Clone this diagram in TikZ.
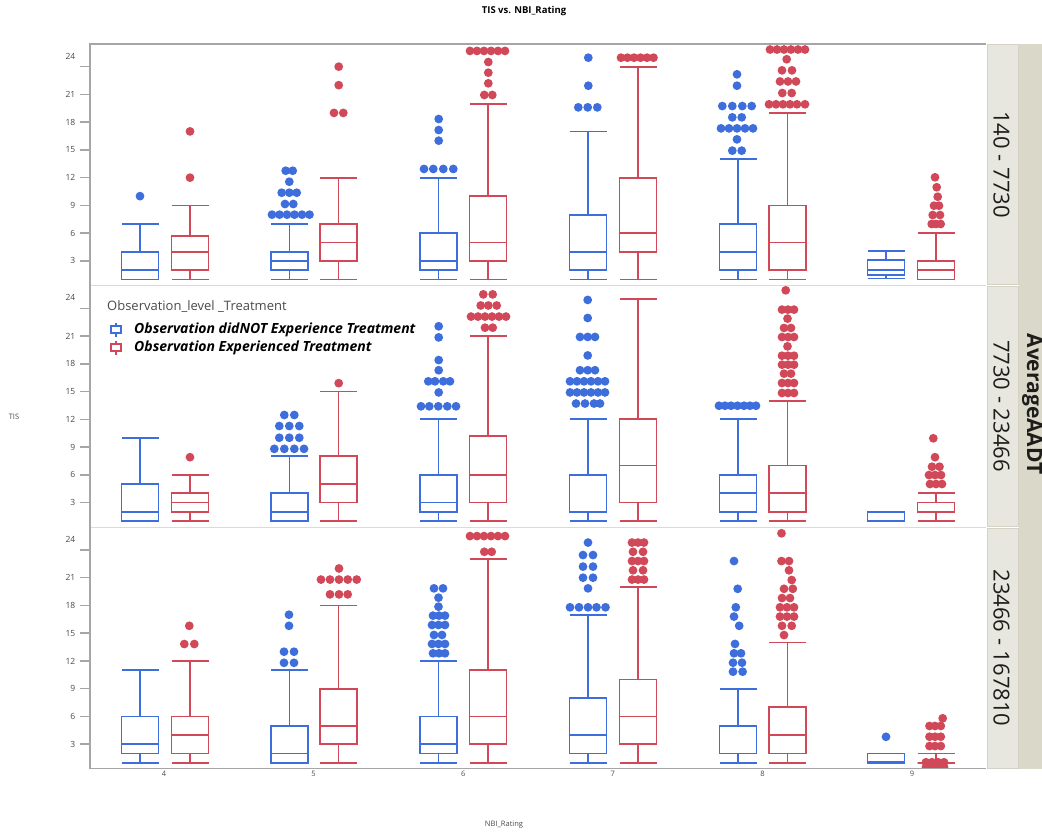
\documentclass[tikz,border=0pt]{standalone}
\usepackage{fontspec}
\setmainfont{Open Sans}
\usepackage{tikz}
\usetikzlibrary{calc}
\definecolor{cblue}{HTML}{3E6EDC}
\definecolor{cred}{HTML}{D14858}
\definecolor{axisg}{HTML}{A6A6A6}
\definecolor{divg}{HTML}{DADADA}
\definecolor{ink}{HTML}{1D1D1B}
\definecolor{ink2}{HTML}{4A4A4A}
\definecolor{stripl}{HTML}{E7E6DF}
\definecolor{stripe}{HTML}{D3D2C4}
\definecolor{stripd}{HTML}{DAD8C9}
\tikzset{
  whisk/.style={draw=#1, line width=1.8pt},
  ticklab/.style={font=\fontsize{8.5}{9}\selectfont, text=ink2, anchor=east, inner sep=0pt},
  xlab/.style={font=\fontsize{7.5}{8}\selectfont, text=ink2, inner sep=0pt},
  striplab/.style={font=\fontsize{22}{24}\selectfont, text=ink, rotate=-90, anchor=base, inner sep=0pt},
  legtxt/.style={font=\fontsize{14}{16}\selectfont\bfseries\itshape, text=black, anchor=west, inner sep=0pt},
}
% color, x, low, q1, median, q3, high
\newcommand{\tisbox}[7]{%
  \draw[whisk=#1] (#2-18.5,#3) -- (#2+18.5,#3) (#2,#3) -- (#2,#4) (#2,#6) -- (#2,#7) (#2-18.5,#7) -- (#2+18.5,#7);
  \draw[whisk=#1, fill=white] (#2-18.5,#4) rectangle (#2+18.5,#6);
  \draw[whisk=#1] (#2-18.5,#5) -- (#2+18.5,#5);
}
% color, value, x list
\newcommand{\tisdots}[3]{\foreach \px in {#3} \fill[#1] (\px,#2) circle (4.4pt);}

\begin{document}
\begin{tikzpicture}[x=1pt, y=-1pt]
    \useasboundingbox (0,0) rectangle (1042,831);
    \node[font=\fontsize{9.5}{11}\selectfont\bfseries, text=black] (ttl) at (524,11) {TIS vs. NBI\_Rating};

    \foreach \base/\nm in {288.65/a, 530.25/b, 771.95/c} {
      \begin{scope}[shift={(0,\base)}, y=9.25pt]
        \foreach \v in {3,6,...,24} \draw[axisg, line width=1.5pt] (80,\v) -- (90,\v);
        \foreach \v in {3,6,...,21} \node[ticklab] (t\nm\v) at (75.5,\v) {\v};
        \node[ticklab] (t\nm24) at (75.5,25.15) {24};
      \end{scope}
    }

    % 140 - 7730
    \begin{scope}[shift={(0,288.65)}, y=9.25pt]
      \clip (90,0.36) rectangle (986,26.48);
      \tisbox{cblue}{140}{1}{1}{2}{4}{7}
      \tisbox{cred}{190}{1}{2}{4}{5.7}{9}
      \tisbox{cblue}{289.5}{1}{2}{3}{4}{7}
      \tisbox{cred}{338.5}{1}{3}{5}{7}{12}
      \tisbox{cblue}{438.5}{1}{2}{3}{6}{12}
      \tisbox{cred}{488}{1}{3}{5}{10}{20}
      \tisbox{cblue}{588}{1}{2}{4}{8}{17}
      \tisbox{cred}{638}{1}{4}{6}{12}{24}
      \tisbox{cblue}{738}{1}{2}{4}{7}{14}
      \tisbox{cred}{787.5}{1}{2}{5}{9}{19}
      \tisbox{cblue}{886}{1.1}{1.5}{2}{3.1}{4.1}
      \tisbox{cred}{936}{1}{1}{2}{3}{6}
      \tisdots{cblue}{10}{140}
      \tisdots{cred}{12}{190} \tisdots{cred}{17}{190}
      \tisdots{cblue}{8}{272,279.5,287,294.5,302,309.5}
      \tisdots{cblue}{9.15}{285,293.3}
      \tisdots{cblue}{10.37}{281.7,289.3,296.7}
      \tisdots{cblue}{11.56}{289.3}
      \tisdots{cblue}{12.75}{285.7,292.7}
      \tisdots{cred}{19}{334,343.3}
      \tisdots{cred}{22}{338.7} \tisdots{cred}{24}{338.7}
      \tisdots{cblue}{12.94}{424,433.3,443.3,453.3}
      \tisdots{cblue}{16}{438.7} \tisdots{cblue}{17.15}{438.7} \tisdots{cblue}{18.34}{438.7}
      \tisdots{cred}{20.94}{484.3,492.3}
      \tisdots{cred}{22.2}{488.3} \tisdots{cred}{23.35}{488.3} \tisdots{cred}{24.5}{488.3}
      \tisdots{cred}{25.7}{470,477,484,491,498,505}
      \tisdots{cblue}{19.6}{578.3,587.7,597.3}
      \tisdots{cblue}{21.94}{588.3} \tisdots{cblue}{24.97}{588.3}
      \tisdots{cred}{24.97}{621,627.5,634,640.5,647,653.5}
      \tisdots{cblue}{14.92}{732.3,741.7}
      \tisdots{cblue}{16.14}{737}
      \tisdots{cblue}{17.33}{721,729,737,745,753}
      \tisdots{cblue}{18.52}{732.3,741.7}
      \tisdots{cblue}{19.74}{722.3,732.3,742.3,751.7}
      \tisdots{cblue}{21.94}{737} \tisdots{cblue}{23.17}{737}
      \tisdots{cred}{19.93}{769,776,783,790,797,805}
      \tisdots{cred}{21.15}{782.3,791.7}
      \tisdots{cred}{22.4}{780,788,796}
      \tisdots{cred}{23.6}{782,792}
      \tisdots{cred}{24.8}{786.7}
      \tisdots{cred}{25.85}{770,777,784,791,798,805}
      \tisdots{cred}{12.04}{935} \tisdots{cred}{10.96}{936.7} \tisdots{cred}{9.94}{937.7}
      \tisdots{cred}{8.97}{934,939} \tisdots{cred}{7.96}{932.7,940}
      \tisdots{cred}{6.99}{931.7,936,940.7}
    \end{scope}

    % 7730 - 23466
    \begin{scope}[shift={(0,530.25)}, y=9.25pt]
      \clip (90,0.36) rectangle (986,26.48);
      \tisbox{cblue}{140}{1}{1}{2}{5}{10}
      \tisbox{cred}{190}{1}{2}{3}{4}{6}
      \tisbox{cblue}{289.5}{1}{1}{2}{4}{8}
      \tisbox{cred}{338.5}{1}{3}{5}{8}{15}
      \tisbox{cblue}{438.5}{1}{2}{3}{6}{12}
      \tisbox{cred}{488}{1}{3}{6}{10.2}{21}
      \tisbox{cblue}{588}{1}{2}{2}{6}{12}
      \tisbox{cred}{638}{1}{3}{7}{12}{25}
      \tisbox{cblue}{738}{1}{2}{4}{6}{12}
      \tisbox{cred}{787.5}{1}{2}{4}{7}{14}
      \tisbox{cblue}{886}{1}{1}{1}{2}{2}
      \tisbox{cred}{936}{1}{2}{2}{3}{4}
      \tisdots{cred}{7.9}{190}
      \tisdots{cblue}{8.8}{274.3,284.3,294.3,304}
      \tisdots{cblue}{10}{279.3,289.3,299.3}
      \tisdots{cblue}{11.27}{279.3,289.3,299.3}
      \tisdots{cblue}{12.46}{284.3,294.3}
      \tisdots{cred}{15.9}{338.7}
      \tisdots{cblue}{13.4}{421,429.3,438.3,447.3,456}
      \tisdots{cblue}{14.9}{438.7}
      \tisdots{cblue}{16.1}{428.3,435,443.3,450}
      \tisdots{cblue}{17.3}{438.7} \tisdots{cblue}{18.4}{438.7}
      \tisdots{cblue}{20.85}{438.7} \tisdots{cblue}{22.05}{438.7}
      \tisdots{cred}{21.9}{485,492.7}
      \tisdots{cred}{23.1}{471,478,485,492,499,506}
      \tisdots{cred}{24.3}{480.7,488.3,496.7}
      \tisdots{cred}{25.5}{483.3,492.7}
      \tisdots{cblue}{13.7}{576,585,594,600}
      \tisdots{cblue}{14.9}{570,577,584,591,598,605}
      \tisdots{cblue}{16.1}{570,577,584,591,598,605}
      \tisdots{cblue}{17.3}{580,587.7,595}
      \tisdots{cblue}{18.9}{587.7}
      \tisdots{cblue}{20.9}{580,587.7,595}
      \tisdots{cblue}{22.95}{587.7} \tisdots{cblue}{24.9}{587.7}
      \tisdots{cblue}{13.46}{719,725,731,737.5,744,750,756}
      \tisdots{cred}{14.84}{782,788,794} \tisdots{cred}{15.92}{782,788,794}
      \tisdots{cred}{16.93}{784,791} \tisdots{cred}{17.9}{782,788,794}
      \tisdots{cred}{18.87}{782,788,794} \tisdots{cred}{19.88}{787.5}
      \tisdots{cred}{20.89}{782,788,794} \tisdots{cred}{21.87}{784,791}
      \tisdots{cred}{22.88}{787.5} \tisdots{cred}{23.85}{782,788,794}
      \tisdots{cred}{25.94}{785.7}
      \tisdots{cred}{9.94}{933.3} \tisdots{cred}{7.9}{935}
      \tisdots{cred}{6.87}{932,939.5}
      \tisdots{cred}{5.97}{929,935,941}
      \tisdots{cred}{5}{930,936,942}
    \end{scope}

    % 23466 - 167810
    \begin{scope}[shift={(0,771.95)}, y=9.25pt]
      \clip (90,0.37) rectangle (986,26.48);
      \tisbox{cblue}{140}{1}{2}{3}{6}{11}
      \tisbox{cred}{190}{1}{2}{4}{6}{12}
      \tisbox{cblue}{289.5}{1}{1}{2}{5}{11}
      \tisbox{cred}{338.5}{1}{3}{5}{9}{18}
      \tisbox{cblue}{438.5}{1}{2}{3}{6}{12}
      \tisbox{cred}{488}{1}{3}{6}{11}{23}
      \tisbox{cblue}{588}{1}{2}{4}{8}{17}
      \tisbox{cred}{638}{1}{3}{6}{10}{20}
      \tisbox{cblue}{738}{1}{2}{2}{5}{9}
      \tisbox{cred}{787.5}{1}{2}{4}{7}{14}
      \tisbox{cblue}{886}{1}{1}{1.1}{2}{2}
      \tisbox{cred}{936}{1}{1}{1}{1}{2}
      \tisdots{cred}{13.83}{184.3,194.3} \tisdots{cred}{15.8}{189.3}
      \tisdots{cblue}{11.8}{284,294} \tisdots{cblue}{13}{284,294}
      \tisdots{cblue}{15.8}{289} \tisdots{cblue}{17}{289}
      \tisdots{cred}{19.2}{330,339,347.7}
      \tisdots{cred}{20.8}{321,330,339,347.7,356.7}
      \tisdots{cred}{22}{339}
      \tisdots{cblue}{12.83}{433,439,445} \tisdots{cblue}{13.84}{432,438.5,445}
      \tisdots{cblue}{14.81}{434,442} \tisdots{cblue}{15.89}{432,438.5,445}
      \tisdots{cblue}{16.9}{433,439,445} \tisdots{cblue}{17.87}{438.5}
      \tisdots{cblue}{18.84}{438.5} \tisdots{cblue}{19.85}{434,443}
      \tisdots{cred}{23.8}{484.3,491.7}
      \tisdots{cred}{25.5}{470,477,484,491,498,505}
      \tisdots{cblue}{17.8}{570,579,588,596.5,605.5}
      \tisdots{cblue}{19.85}{588}
      \tisdots{cblue}{21}{583,593} \tisdots{cblue}{22.2}{583,593} \tisdots{cblue}{23.45}{583,593}
      \tisdots{cblue}{24.8}{588}
      \tisdots{cred}{20.8}{632,638,644} \tisdots{cred}{21.8}{633,643}
      \tisdots{cred}{22.8}{632,638,644} \tisdots{cred}{23.8}{633,643}
      \tisdots{cred}{24.8}{632,638,644}
      \tisdots{cblue}{10.84}{733,742.6} \tisdots{cblue}{11.81}{733,742}
      \tisdots{cblue}{12.83}{734,741} \tisdots{cblue}{13.84}{735}
      \tisdots{cblue}{15.8}{739.2} \tisdots{cblue}{16.8}{734} \tisdots{cblue}{17.8}{735.8}
      \tisdots{cblue}{19.8}{737.7} \tisdots{cblue}{22.8}{734}
      \tisdots{cred}{14.8}{784} \tisdots{cred}{15.8}{782,791.7}
      \tisdots{cred}{16.8}{780,787,794} \tisdots{cred}{17.8}{780,787,794}
      \tisdots{cred}{18.8}{782,790} \tisdots{cred}{19.8}{784,792.8}
      \tisdots{cred}{20.75}{791.7} \tisdots{cred}{21.8}{789}
      \tisdots{cred}{22.8}{781.5,789} \tisdots{cred}{25.8}{781.5}
      \tisdots{cblue}{3.8}{886}
      \tisdots{cred}{5.8}{942.7}
      \tisdots{cred}{4.97}{929.5,935,940.8} \tisdots{cred}{3.81}{929.5,935,940.8}
      \tisdots{cred}{2.8}{929.5,935,940.8}
      \tisdots{cred}{1.05}{926,932,938,944} \tisdots{cred}{0.55}{926,932,938,944}
    \end{scope}

    \draw[divg, line width=1pt] (90,285.3) -- (986,285.3) (90,527.2) -- (986,527.2);
    \draw[axisg, line width=1.7pt] (986,43.7) -- (90,43.7) -- (90,768.5) -- (986,768.5);

    \foreach \k/\px in {4/164,5/313.6,6/463.2,7/612.8,8/762.4,9/912} \node[xlab] (x\k) at (\px,773.5) {\k};
    \node[xlab] (ytitle) at (14,417) {TIS};
    \node[xlab] (xtitle) at (504,825) {NBI\_Rating};

    \node[font=\fontsize{13}{15}\selectfont, text=ink2, anchor=west, inner sep=0pt] (legttl) at (107,307) {Observation\_level \_Treatment};
    \foreach \c/\yy in {cblue/329.5, cred/347.5} {
      \draw[\c, line width=1.4pt] (111,\yy-3.5) rectangle (121,\yy+3.5) (116,\yy-7) -- (116,\yy-3.5) (116,\yy+3.5) -- (116,\yy+7);
    }
    \node[legtxt] (legb) at (134,330) {Observation didNOT Experience Treatment};
    \node[legtxt] (legr) at (134,348) {Observation Experienced Treatment};

    \fill[stripd] (1019,43.5) rectangle (1042,768.5);
    \foreach \ya/\yb in {44/284, 286.5/526, 528.5/768} \draw[stripe, fill=stripl, line width=0.8pt] (987,\ya) rectangle (1018.5,\yb);
    \node[striplab] (sa) at (993.5,164.5) {140 - 7730};
    \node[striplab] (sb) at (993.5,406) {7730 - 23466};
    \node[striplab] (sc) at (993.5,648) {23466 - 167810};
    \node[striplab, font=\fontsize{21}{23}\selectfont\bfseries] (agg) at (1027,404) {AverageAADT};
  \end{tikzpicture}
\end{document}
